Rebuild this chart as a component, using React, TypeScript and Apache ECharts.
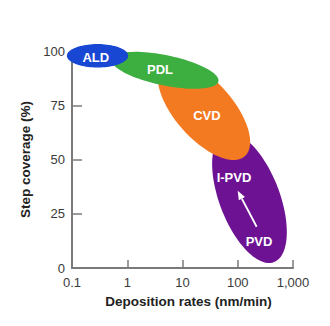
import React, { useEffect, useRef } from "react";
import * as echarts from "echarts";

// Ellipses: centre, and two conjugate semi-axis end points, in data units
const techniques = ["PVD", "CVD", "PDL", "ALD"];
const centerRate = [163, 24.5, 4.82, 0.29];
const centerCoverage = [32.3, 72.8, 91.1, 97.8];
const axisARate = [614, 107.6, 44.9, 1.04];
const axisACoverage = [32.3, 72.8, 86.4, 97.8];
const axisBRate = [368, 83.8, 4.82, 0.29];
const axisBCoverage = [2.3, 49.8, 98.2, 103.2];
const labelRate = [243, 27.7, 3.92, 0.27];
const labelCoverage = [12.1, 70.5, 91.7, 96.8];
const colors = ["#6c1293", "#f47a22", "#3dae40", "#1747d3"];

// I-PVD label and arrow from PVD to I-PVD
const extraLabel = "I-PVD";
const extraLabelRate = 85.5;
const extraLabelCoverage = 41.6;
const arrowFrom = [220, 19.0];
const arrowTo = [99.8, 35.6];

const xTicks = [0.1, 1, 10, 100, 1000];
const xTickLabels = ["0.1", "1", "10", "100", "1,000"];
const yTicks = [0, 25, 50, 75, 100];

const FONT = "'Liberation Sans', Arial, Helvetica, sans-serif";

export default function App() {
  const ref = useRef<HTMLDivElement>(null);
  useEffect(() => {
    if (!ref.current) return;
    const chart = echarts.init(ref.current, null, { renderer: "svg" });
    const data = techniques.map((name, i) => [
      centerRate[i],
      centerCoverage[i],
      axisARate[i],
      axisACoverage[i],
      axisBRate[i],
      axisBCoverage[i],
      labelRate[i],
      labelCoverage[i],
    ]);
    chart.setOption({
      animation: false,
      grid: { left: 72, right: 37, top: 51, bottom: 58 },
      xAxis: {
        type: "log",
        logBase: 10,
        min: xTicks[0],
        max: xTicks[xTicks.length - 1],
        name: "Deposition rates (nm/min)",
        nameLocation: "middle",
        nameGap: 26,
        nameTextStyle: {
          fontFamily: FONT,
          fontWeight: "bold",
          fontSize: 13.5,
          color: "#222",
          padding: [0, 0, 0, 12],
        },
        axisLine: { lineStyle: { color: "#7a7a7a", width: 2 } },
        axisTick: { inside: true, length: 8, lineStyle: { color: "#7a7a7a", width: 1.5 } },
        axisLabel: {
          margin: 8,
          fontFamily: FONT,
          fontSize: 13,
          color: "#3a3a3a",
          formatter: (v: number) => {
            const idx = xTicks.findIndex((t) => Math.abs(Math.log10(t) - Math.log10(v)) < 1e-6);
            return idx >= 0 ? xTickLabels[idx] : "";
          },
        },
        splitLine: { show: false },
        minorTick: { show: false },
      },
      yAxis: {
        type: "value",
        min: yTicks[0],
        max: yTicks[yTicks.length - 1],
        interval: 25,
        name: "Step coverage (%)",
        nameLocation: "middle",
        nameGap: 36,
        nameTextStyle: {
          fontFamily: FONT,
          fontWeight: "bold",
          fontSize: 13.5,
          color: "#222",
        },
        axisLine: { show: true, lineStyle: { color: "#7a7a7a", width: 2 } },
        axisTick: { show: true, inside: true, length: 10, lineStyle: { color: "#7a7a7a", width: 1.5 } },
        axisLabel: { margin: 7, fontFamily: FONT, fontSize: 13, color: "#3a3a3a" },
        splitLine: { show: false },
      },
      series: [
        {
          type: "custom",
          clip: false,
          encode: { x: [0, 2, 4, 6], y: [1, 3, 5, 7] },
          data,
          renderItem: (params: any, api: any) => {
            const i = params.dataIndex;
            const c = api.coord([api.value(0), api.value(1)]);
            const a = api.coord([api.value(2), api.value(3)]);
            const b = api.coord([api.value(4), api.value(5)]);
            const l = api.coord([api.value(6), api.value(7)]);
            const u = [a[0] - c[0], a[1] - c[1]];
            const v = [b[0] - c[0], b[1] - c[1]];
            const pts: number[][] = [];
            const N = 90;
            for (let k = 0; k < N; k++) {
              const t = (k / N) * Math.PI * 2;
              pts.push([
                c[0] + u[0] * Math.cos(t) + v[0] * Math.sin(t),
                c[1] + u[1] * Math.cos(t) + v[1] * Math.sin(t),
              ]);
            }
            return {
              type: "group",
              children: [
                {
                  type: "polygon",
                  shape: { points: pts, smooth: 0 },
                  style: { fill: colors[i] },
                },
                {
                  type: "text",
                  z2: 10,
                  style: {
                    text: techniques[i],
                    x: l[0],
                    y: l[1],
                    fill: "#ffffff",
                    font: `bold 13px ${FONT}`,
                    align: "center",
                    verticalAlign: "middle",
                  },
                },
              ],
            };
          },
        },
        {
          type: "custom",
          clip: false,
          encode: { x: [0, 2, 4], y: [1, 3, 5] },
          data: [[arrowFrom[0], arrowFrom[1], arrowTo[0], arrowTo[1], extraLabelRate, extraLabelCoverage]],
          renderItem: (params: any, api: any) => {
            const p1 = api.coord([api.value(0), api.value(1)]);
            const p2 = api.coord([api.value(2), api.value(3)]);
            const lp = api.coord([api.value(4), api.value(5)]);
            const dx = p2[0] - p1[0];
            const dy = p2[1] - p1[1];
            const len = Math.sqrt(dx * dx + dy * dy);
            const ux = dx / len;
            const uy = dy / len;
            const hl = 9;
            const hw = 3.5;
            const base = [p2[0] - ux * hl, p2[1] - uy * hl];
            return {
              type: "group",
              children: [
                {
                  type: "line",
                  shape: { x1: p1[0], y1: p1[1], x2: base[0], y2: base[1] },
                  style: { stroke: "#ffffff", lineWidth: 1.8 },
                },
                {
                  type: "polygon",
                  shape: {
                    points: [
                      [p2[0], p2[1]],
                      [base[0] - uy * hw, base[1] + ux * hw],
                      [base[0] + uy * hw, base[1] - ux * hw],
                    ],
                  },
                  style: { fill: "#ffffff" },
                },
                {
                  type: "text",
                  style: {
                    text: extraLabel,
                    x: lp[0],
                    y: lp[1],
                    fill: "#ffffff",
                    font: `bold 13px ${FONT}`,
                    align: "center",
                    verticalAlign: "middle",
                  },
                },
              ],
            };
          },
        },
      ],
    });
    return () => chart.dispose();
  }, []);
  return (
    <div
      ref={ref}
      style={{ position: "absolute", left: 0, top: 0, width: 330, height: 326, background: "#fff" }}
    />
  );
}
